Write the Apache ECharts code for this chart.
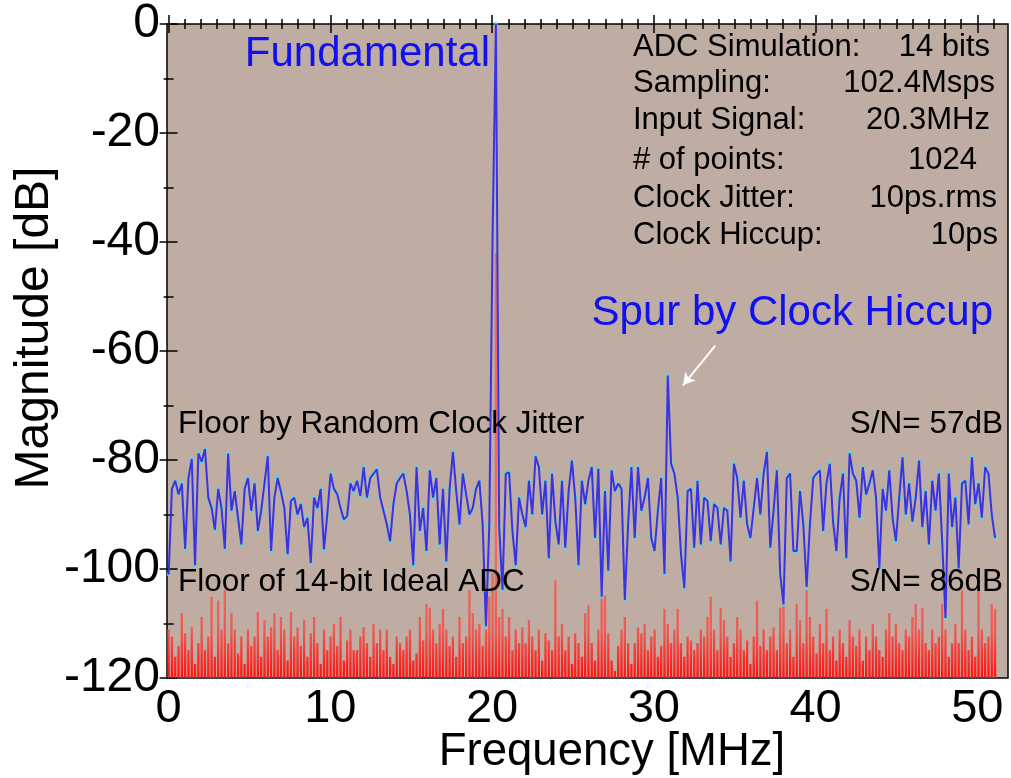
<!DOCTYPE html>
<html>
<head>
<meta charset="utf-8">
<script src="https://cdn.jsdelivr.net/npm/echarts@6/dist/echarts.min.js"></script>
<style>html,body{margin:0;padding:0;background:#fff;}#c{width:1011px;height:778px;}</style>
</head>
<body>
<div id="c"></div>
<script>
// ---- data ----
// trace is a 251-point view of the 0 .. 51.1 MHz spectrum (one point every 51.1/250 MHz)
const FREQ_STEP = 51.1 / 250;
const xTickLabels = [0, 10, 20, 30, 40, 50];
const xMinorTicks = [0,1,2,3,4,5,6,7,8,9,10,11,12,13,14,15,16,17,18,19,20,21,22,23,24,25,26,27,28,29,30,31,32,33,34,35,36,37,38,39,40,41,42,43,44,45,46,47,48,49,50,51];
const yTickLabels = [0, -20, -40, -60, -80, -100, -120];
const FLOOR_DB = -120;

// blue: 14-bit ADC with 10ps rms clock jitter + clock hiccup (dB)
const jitterFloor = [
-101,-85.3,-83.8,-86.3,-84.3,-96.3,-83.3,-79.8,-99.3,-78.8,
-80.3,-78,-86.9,-88.8,-92.8,-85.3,-88.8,-96.3,-78.8,-89.3,
-85.7,-90.6,-95.5,-85.3,-83.3,-89.3,-84.3,-93,-89.3,-84.3,
-79.3,-96.7,-86.9,-83.3,-85.9,-88.8,-97.3,-87.5,-86.9,-90,
-88.1,-92.3,-90.6,-98.9,-86.9,-88.8,-85.3,-96.4,-90,-82.5,
-85.3,-86.3,-88.8,-90.9,-90.3,-84.3,-85.7,-83.8,-86.6,-81.3,
-86.9,-83.3,-82.5,-81.7,-86.9,-89.3,-91.8,-94.9,-88.1,-84.3,
-83.3,-82.5,-85.7,-90,-99.3,-81.3,-93,-88.8,-96.7,-81.9,
-86.9,-83.3,-95.5,-85.3,-98.6,-85.3,-78.5,-85.7,-91.8,-82.5,
-86.3,-90,-88.8,-85.3,-83.8,-91.8,-110.5,-92,-39,0,
-92.3,-103.8,-82.5,-82.3,-93,-99.3,-86.9,-90,-92.3,-83.8,
-90,-79.3,-81.3,-90,-83.8,-98,-82.5,-91.3,-95.5,-83.8,
-96.1,-85.7,-80.1,-86.9,-99.3,-83.8,-88.1,-83.8,-81.3,-94.3,
-81.6,-105.1,-85.7,-100.3,-81.9,-85.7,-84.3,-85.3,-105.7,-91.8,
-81.3,-94.3,-81.3,-89.3,-86.9,-83.3,-94.3,-96.7,-89.3,-83.3,
-100.9,-64.5,-80.7,-82.5,-86.9,-97.3,-103.5,-85.7,-85.3,-96.1,
-83.8,-95.5,-86.9,-87.5,-94.9,-88.1,-88.8,-95.5,-88.8,-89.3,
-98.6,-80.7,-83.3,-90.6,-83.8,-91.8,-94.3,-88.8,-83.3,-90,
-82.5,-78.5,-96.1,-89.3,-81.9,-100.9,-106.5,-83.3,-82.5,-96.7,
-96.7,-85.7,-91.8,-103.3,-91.8,-83.3,-82.5,-81.9,-93,-84.3,
-80.7,-91.3,-96.7,-86.9,-82.5,-98,-78.8,-82.5,-83.8,-90.6,
-81.3,-86.3,-84.3,-81.9,-86.9,-99.9,-85.3,-89.3,-81.9,-90.6,
-94.9,-86.9,-79.5,-90,-84.3,-91.3,-86.9,-80.1,-92.3,-85.7,
-95.5,-83.8,-89.3,-82.5,-94.9,-109,-82.5,-92.3,-86.9,-99.9,
-84.3,-83.8,-91.8,-79.5,-88.1,-84.3,-90.6,-81.3,-82.5,-90,
-94.3
];

// red: ideal 14-bit ADC (quantisation floor only), dB
const idealFloor = [
-111.1,-112.4,-116.1,-114.1,-108.1,-111.8,-114.9,-110.7,-117.4,-113.6,
-108.8,-114.9,-112.4,-105.1,-116.1,-105.8,-111.1,-103.9,-113.6,-108.1,
-111.1,-115.5,-112.4,-117.4,-111.1,-114.1,-112.4,-107.9,-116.1,-109.4,
-112.4,-110.7,-108.1,-114.9,-108.8,-111.1,-116.8,-107.9,-112.4,-110.7,
-114.1,-109.4,-116.1,-111.8,-108.8,-113.6,-117.4,-111.1,-114.9,-112.4,
-110.1,-114.1,-108.8,-116.8,-113.1,-111.1,-114.9,-114.9,-112.4,-110.7,
-113.6,-116.1,-110.1,-113.6,-111.1,-114.9,-111.1,-116.1,-117.4,-112.4,
-113.6,-114.9,-112.4,-111.1,-116.8,-115.5,-108.8,-113.1,-106.4,-107.1,
-111.1,-113.6,-110.1,-107.3,-111.1,-114.1,-112.4,-116.1,-108.8,-113.6,
-112.4,-103.9,-108.1,-111.1,-110.1,-114.1,-111.1,-105.1,-100.7,-42,
-108.8,-107.3,-112.4,-108.8,-114.9,-111.1,-113.6,-110.7,-113.6,-109.4,
-112.4,-114.9,-111.1,-116.8,-111.8,-113.1,-114.9,-102.1,-112.4,-110.1,
-114.9,-112.4,-117.4,-111.8,-113.6,-116.1,-108.1,-106.7,-113.6,-116.8,
-111.1,-105.4,-104.8,-111.8,-116.8,-118.7,-114.1,-111.1,-108.8,-113.6,
-117.4,-113.6,-110.7,-111.8,-110.1,-114.9,-112.4,-111.1,-116.1,-114.1,
-107.3,-110.1,-113.6,-111.1,-107.3,-113.6,-116.1,-112.4,-113.1,-114.9,
-113.6,-111.1,-112.4,-108.8,-105.1,-111.1,-114.9,-107.1,-109.4,-112.4,
-116.1,-113.6,-108.8,-111.1,-114.9,-113.1,-117.4,-112.4,-105.8,-114.1,
-111.1,-114.9,-112.4,-110.7,-114.9,-107.1,-106.7,-113.6,-111.1,-116.1,
-106.4,-109.4,-113.6,-103.9,-108.8,-112.4,-115.5,-110.1,-113.6,-107.3,
-114.9,-112.4,-116.8,-111.1,-113.6,-116.1,-109.4,-112.4,-114.1,-111.1,
-116.8,-112.4,-114.9,-110.1,-112.4,-114.9,-116.1,-111.1,-108.1,-112.4,
-110.1,-113.6,-114.9,-111.1,-112.4,-108.8,-106.4,-111.1,-107.1,-113.6,
-114.9,-111.1,-113.6,-112.4,-106.4,-111.1,-116.1,-113.6,-110.1,-113.6,
-103.9,-111.1,-114.9,-112.4,-116.1,-103.9,-111.1,-113.6,-112.4,-106.4,
-107.3
];

// annotation arrow (MHz, dB): tail -> tip pointing at the hiccup spur
const arrowTail = [33.8, -59.0];
const arrowTip = [31.8, -66.3];

// ---- build ----
const FONT = '"Liberation Sans", Arial, sans-serif';
const jitterPts = jitterFloor.map((v, i) => [i * FREQ_STEP, v]);
const idealPts = idealFloor.map((v, i) => [i * FREQ_STEP, v]);

const X_MIN = -0.1, X_MAX = 51.9;
function xAx(pos, custom, len, labels) {
  return {
    type: 'value', position: pos, min: X_MIN, max: X_MAX,
    axisLine: { show: false },
    splitLine: { show: false },
    axisTick: { show: true, inside: true, length: len, customValues: custom,
      lineStyle: { color: '#000', width: 1.5 } },
    axisLabel: labels ? { show: true, customValues: xTickLabels, fontSize: 47,
      fontFamily: FONT, color: '#000', margin: 8 } : { show: false }
  };
}
function yAx(pos, labels) {
  return {
    type: 'value', position: pos, min: -120, max: 0, interval: 20,
    axisLine: { show: false },
    splitLine: { show: false },
    axisTick: { show: true, inside: true, length: 9, lineStyle: { color: '#000', width: 1.5 } },
    minorTick: { show: true, splitNumber: 2, length: 5, lineStyle: { color: '#000', width: 1.5 } },
    axisLabel: labels ? { show: true, fontSize: 48, fontFamily: FONT, color: '#000', margin: 7 } : { show: false }
  };
}

const redGrad = new echarts.graphic.LinearGradient(0, 560, 0, 678, [
  { offset: 0, color: '#EC6A60' }, { offset: 0.6, color: '#EE5A52' }, { offset: 1, color: '#FF1010' }
], true);

const chart = echarts.init(document.getElementById('c'), null, { renderer: 'canvas' });

const txt = (x, y, s, size, color, align) => ({
  type: 'text', z: 100,
  style: { x: x, y: y, text: s, fontSize: size, fontFamily: FONT, fill: color,
    textAlign: align || 'left', textVerticalAlign: 'middle' }
});

chart.setOption({
  animation: false,
  backgroundColor: '#ffffff',
  grid: { left: 167, top: 19, right: 3, bottom: 100, show: true,
    backgroundColor: '#BFACA3', borderColor: '#000', borderWidth: 1.5 },
  xAxis: [
    xAx('bottom', xTickLabels, 9, true),
    xAx('bottom', xMinorTicks, 5, false),
    xAx('top', xTickLabels, 9, false),
    xAx('top', xMinorTicks, 5, false)
  ],
  yAxis: [yAx('left', true), yAx('right', false)],
  series: [
    {
      name: 'Floor of 14-bit Ideal ADC', type: 'custom', data: idealPts, z: 2,
      encode: { x: 0, y: 1 },
      renderItem: function (params, api) {
        const f = api.value(0), v = api.value(1);
        const top = api.coord([f, v]);
        const base = api.coord([f, FLOOR_DB]);
        return { type: 'line', shape: { x1: top[0], y1: top[1], x2: base[0], y2: base[1] },
          style: { stroke: redGrad, lineWidth: 2.3 } };
      }
    },
    {
      name: 'tips', type: 'scatter', data: jitterPts, symbol: 'rect', symbolSize: 3.5,
      z: 3, itemStyle: { color: '#3FE3E6' }, silent: true
    },
    {
      name: 'Floor by Random Clock Jitter', type: 'line', data: jitterPts, showSymbol: false,
      z: 4, lineStyle: { color: '#3535E4', width: 2 },
      markLine: {
        silent: true, symbol: ['none', 'arrow'], symbolSize: [10, 12],
        label: { show: false },
        lineStyle: { color: '#ffffff', width: 2, type: 'solid' },
        data: [[{ coord: arrowTail }, { coord: arrowTip }]]
      }
    }
  ],
  graphic: [
    txt(490, 54, 'Fundamental', 42, '#1010F0', 'right'),
    txt(633, 47, 'ADC Simulation:', 31, '#000'),
    txt(990, 47, '14 bits', 31, '#000', 'right'),
    txt(633, 83, 'Sampling:', 31, '#000'),
    txt(995, 83, '102.4Msps', 31, '#000', 'right'),
    txt(633, 120, 'Input Signal:', 31, '#000'),
    txt(990, 120, '20.3MHz', 31, '#000', 'right'),
    txt(633, 160, '# of points:', 31, '#000'),
    txt(977, 160, '1024', 31, '#000', 'right'),
    txt(633, 198, 'Clock Jitter:', 31, '#000'),
    txt(997, 198, '10ps.rms', 31, '#000', 'right'),
    txt(633, 235, 'Clock Hiccup:', 31, '#000'),
    txt(998, 235, '10ps', 31, '#000', 'right'),
    txt(993, 313, 'Spur by Clock Hiccup', 42, '#1010F0', 'right'),
    txt(178, 424, 'Floor by Random Clock Jitter', 31.5, '#000'),
    txt(1003, 424, 'S/N= 57dB', 31.5, '#000', 'right'),
    txt(178, 582, 'Floor of 14-bit Ideal ADC', 31.5, '#000'),
    txt(1003, 582, 'S/N= 86dB', 31.5, '#000', 'right'),
    txt(612, 752, 'Frequency [MHz]', 45.5, '#000', 'center'),
    { type: 'text', z: 100, x: 35, y: 328, rotation: Math.PI / 2,
      style: { x: 0, y: 0, text: 'Magnitude [dB]', fontSize: 48, fontFamily: FONT, fill: '#000',
        textAlign: 'center', textVerticalAlign: 'middle' } }
  ]
});
</script>
</body>
</html>
